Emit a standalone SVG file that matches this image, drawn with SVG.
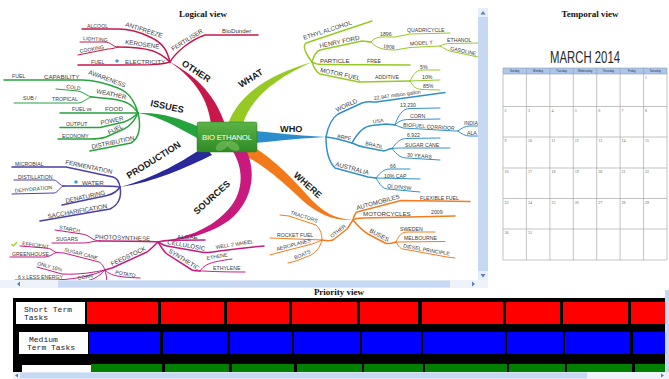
<svg xmlns="http://www.w3.org/2000/svg" width="669" height="379" viewBox="0 0 669 379">
<defs>
<style>
.t1{font-family:"Liberation Sans",Arial,sans-serif;font-size:6.2px;fill:#3a3a3a}
.t2{font-family:"Liberation Sans",Arial,sans-serif;font-size:5.2px;fill:#3a3a3a}
.bl{font-family:"Liberation Sans",Arial,sans-serif;font-size:9.2px;font-weight:bold;fill:#1c1c1c}
.ttl{font-family:"Liberation Serif","Times New Roman",serif;font-size:9px;font-weight:bold;fill:#111}
.l1{fill:none;stroke-width:1.5;stroke-linecap:round;stroke-linejoin:round}
.l2{fill:none;stroke-width:1;stroke-linecap:round;stroke-linejoin:round}
.oth{stroke:#c8174a}.iss{stroke:#25a33d}.wht{stroke:#97c925}.who{stroke:#3190cb}.whr{stroke:#f27c1e}.prd{stroke:#4d3fa8}.src{stroke:#c8197f}
.cal{stroke:#9a9a9a;stroke-width:0.6;fill:none}
.d{font-family:"Liberation Serif",serif;font-size:4px;fill:#666}
.hd{font-family:"Liberation Sans",Arial,sans-serif;font-size:2.8px;fill:#334;text-anchor:middle}
.lab{font-family:"Liberation Mono","Courier New",monospace;font-size:8px;fill:#222}
.sb{fill:#c6d8f2}
</style>
<linearGradient id="gc" x1="0" y1="0" x2="0" y2="1">
<stop offset="0" stop-color="#5cb446"/>
<stop offset="1" stop-color="#2f8a25"/>
</linearGradient>
<clipPath id="mm"><rect x="0" y="8" width="478" height="272"/></clipPath>
</defs>
<rect width="669" height="379" fill="#fff"/>

<g id="title-logical"><text class="ttl" x="203" y="17" text-anchor="middle">Logical view</text></g>
<g id="title-temporal"><text class="ttl" x="590" y="17" text-anchor="middle">Temporal view</text></g>
<g id="title-priority"><text class="ttl" x="339" y="295" text-anchor="middle">Priority view</text></g>

<g clip-path="url(#mm)">
<g id="connectors">
<path d="M211 124 C208 100 196 80 170 62 C200 78 216 98 225 124 Z" fill="#c8174a"/>
<path d="M228 124 C238 95 268 75 312 62 C272 80 250 100 243 124 Z" fill="#97c925"/>
<path d="M199 127 C180 118 160 112 138 113 C160 116 178 128 199 139 Z" fill="#25a33d"/>
<path d="M255 131 C285 134 305 136 326 137 C305 138 285 140 255 143 Z" fill="#2c8dcb"/>
<path d="M252 146 C275 160 292 178 308 196 C322 212 335 219 353 220 C333 221 318 214 302 200 C285 184 268 168 244 155 Z" fill="#f27a1a"/>
<path d="M205 146 C185 160 155 178 120 187 C155 182 185 168 212 155 Z" fill="#29299b"/>
<path d="M232 150 C245 170 244 195 225 213 C208 230 185 238 158 242 C186 240 212 234 232 218 C254 198 256 170 246 150 Z" fill="#c8197f"/>
<path class="l1 oth" d="M170 62 C160 65 150 65 120 65 L78 65"/>
<path class="l1 oth" d="M170 62 C160 52 150 47 118 47"/>
<path class="l2 oth" d="M118 47 C112 47 112 42 104 42 L80 42"/>
<path class="l2 oth" d="M118 47 C114 48 112 49 108 49 L78 55"/>
<path class="l1 oth" d="M170 62 C167 50 163 43 150 37 C140 32 130 29 118 29 L82 29"/>
<path class="l1 oth" d="M170 62 C175 53 190 40 205 35 L258 35"/>
<path class="l1 iss" d="M138 113 C134 99 128 92 118 88 C105 83 95 80 82 80 L4 80"/>
<path class="l1 iss" d="M138 113 C132 104 126 101 112 99 L92 97"/>
<path class="l2 iss" d="M92 97 C86 96 84 92 78 91 L56 89"/>
<path class="l2 iss" d="M92 97 C86 98 84 103 78 103 L14 103"/>
<path class="l1 iss" d="M138 113 L60 113"/>
<path class="l1 iss" d="M138 113 C133 118 130 120 124 122 L100 127.5 L60 127.5"/>
<path class="l1 iss" d="M138 113 C135 120 130 126 124 129 L106 137 C100 139 95 139 90 139 L58 139"/>
<path class="l1 iss" d="M138 113 C141 125 140 138 131 143 L90 151"/>
<path class="l1 prd" d="M120 187 C119 181 117 178 113 177 L66 167 L12 167"/>
<path class="l1 prd" d="M120 187 C112 186 108 186 100 186 L64 186"/>
<path class="l2 prd" d="M64 186 C60 186 58 181 54 180 L14 180"/>
<path class="l2 prd" d="M64 186 C60 186 58 193 54 193 L12 194"/>
<path class="l1 prd" d="M120 187 C117 192 113 194 107 195.5 L62 205"/>
<path class="l1 prd" d="M120 187 C122 198 118 205 110 209 L40 221"/>
<path class="l1 src" d="M158 242 C150 241 145 241 100 241"/>
<path class="l2 src" d="M100 241 C92 241 90 235 82 234 L55 230"/>
<path class="l2 src" d="M100 241 C92 241 90 243 82 243 L52 243"/>
<path class="l1 src" d="M158 242 C165 240 170 240 205 240"/>
<path class="l1 src" d="M158 242 C162 244 164 245.5 167 246 L204 252.5 C212 253 225 249 264 246"/>
<path class="l1 src" d="M158 242 C162 248 164 252 167 254 L192 270 C195 271 198 271 200 271"/>
<path class="l2 src" d="M200 271 C205 264 210 262 232 259"/>
<path class="l2 src" d="M200 271 C208 271 215 272 245 272"/>
<path class="l1 src" d="M158 242 C154 246 151 249 147 252 L112 268 L105 270"/>
<path class="l2 src" d="M105 270 C103 265 101 263 99 262 L64 253 L56 252.5"/>
<path class="l2 src" d="M56 252.5 C52 250 50 248 45 248 L20 246"/>
<path class="l2 src" d="M56 252.5 C52 254 50 257 45 257 L10 257"/>
<path class="l2 src" d="M105 270 C95 272 80 275 62 274 L37 267"/>
<path class="l2 src" d="M105 270 C90 277 70 280 50 280 L15 280"/>
<path class="l2 src" d="M105 270 C100 275 95 281 78 282"/>
<path class="l2 src" d="M105 270 C110 275 115 277 140 278"/>
<path class="l2 src" d="M105 270 C106 274 107 278 107 284"/>
<path class="l1 wht" d="M312 62 C306 54 302 46 306 43 L372 21"/>
<path class="l1 wht" d="M312 62 C314 55 316 51 320 50 L362 41 C365 41 368 42 371 42"/>
<path class="l2 wht" d="M371 42 C376 36 380 37 395 37 L410 34 L450 33"/>
<path class="l2 wht" d="M371 42 C376 47 380 50 395 50 L410 47.5 L440 46"/>
<path class="l2 wht" d="M440 46 C444 44 446 43.5 450 43.5 L480 43"/>
<path class="l2 wht" d="M440 46 C444 48 446 50 450 51 L478 57"/>
<path class="l1 wht" d="M312 62 C315 64 318 64.5 322 64.5 L410 65"/>
<path class="l1 wht" d="M312 62 C314 68 316 72 320 74 L359 82 L410 81"/>
<path class="l2 wht" d="M410 81 C413 76 415 70 422 70 L440 70"/>
<path class="l2 wht" d="M410 81 L440 80"/>
<path class="l2 wht" d="M410 81 C413 86 415 89 422 89.5 L440 90"/>
<path class="l1 who" d="M326 137 C328 126 332 118 338 114 L362 103 C368 101 372 102 376 102 L445 92.5"/>
<path class="l1 who" d="M326 137 C335 138 342 140 352 143"/>
<path class="l1 who" d="M352 143 C358 132 364 126 372 125.5 L386 124 C390 124 392 125 395 125"/>
<path class="l2 who" d="M395 125 C398 116 402 108.5 410 108.5 L440 108"/>
<path class="l2 who" d="M395 125 C400 120 404 119.5 410 119.5 L440 119"/>
<path class="l2 who" d="M395 125 L403 128 L455 131 L458 131"/>
<path class="l2 who" d="M458 131 C462 128 465 126 470 126 L482 126"/>
<path class="l2 who" d="M458 131 C462 134 465 136 470 136 L482 136"/>
<path class="l1 who" d="M352 143 C358 146 362 147 366 147.5 L384 151 C387 150 389 149 392 148.5"/>
<path class="l2 who" d="M392 148.5 C397 142 400 138.5 407 138.5 L440 138"/>
<path class="l2 who" d="M392 148.5 C397 148 400 148 405 148 L450 148"/>
<path class="l2 who" d="M392 148.5 C397 155 401 158 407 158 L440 160"/>
<path class="l1 who" d="M326 137 C326 152 329 162 335 168 L368 177 L376 178"/>
<path class="l2 who" d="M376 178 C381 172 384 169 390 169 L410 169"/>
<path class="l2 who" d="M376 178 L420 179"/>
<path class="l2 who" d="M376 178 C380 185 383 189 388 189 L420 192"/>
<path class="l1 whr" d="M353 220 C354 216 355 213 357 212 L401 200.5 L470 201.5"/>
<path class="l1 whr" d="M353 220 C356 218 360 218 363 218 L455 216"/>
<path class="l1 whr" d="M353 220 C358 226 363 231 368 234 L386 243.5 C390 244 393 243 396 242"/>
<path class="l2 whr" d="M396 242 C399 235 402 232 408 232 L435 232"/>
<path class="l2 whr" d="M396 242 L445 241.5"/>
<path class="l2 whr" d="M396 242 C399 247 401 249 403 249 L447 257 L455 258"/>
<path class="l1 whr" d="M353 220 C350 224 349 227 347 229 L333 240 C330 241 326 241 322 240"/>
<path class="l2 whr" d="M322 240 C322 232 319 228 316 225 L289 216 L280 215"/>
<path class="l2 whr" d="M322 240 L270 238"/>
<path class="l2 whr" d="M322 240 C318 242 315 243 312 244 L277 253 L270 255"/>
<path class="l2 whr" d="M322 240 C320 248 316 252 311 255 L296 261 L288 263"/>
</g>

<g id="n-center">
<rect x="197" y="122" width="60" height="30" rx="2" fill="url(#gc)" stroke="#2a7a20" stroke-width="0.5"/>
<ellipse cx="222" cy="146" rx="7" ry="4" fill="#8fd070" opacity="0.45" transform="rotate(-30 222 146)"/>
<ellipse cx="233" cy="146" rx="7" ry="4" fill="#8fd070" opacity="0.45" transform="rotate(30 233 146)"/>
<text x="227" y="139.5" text-anchor="middle" font-family="Liberation Sans,Arial,sans-serif" font-size="7.8" fill="#fff" textLength="50" lengthAdjust="spacing">BIO ETHANOL</text>
</g>

<g id="n-other"><text class="bl" transform="translate(181 65) rotate(33)">OTHER</text></g>
<g id="n-electricity"><text class="t1" x="125" y="63.5">ELECTRICITY</text><rect x="115.5" y="59.5" width="3" height="3" fill="#3b9bdc" transform="rotate(45 117 61)"/></g>
<g id="n-fuel1"><text class="t2" x="91" y="63.5">FUEL</text></g>
<g id="n-kerosene"><text class="t1" transform="translate(125 44) rotate(8)">KEROSENE</text></g>
<g id="n-lighting"><text class="t2" transform="translate(83 40) rotate(4)">LIGHTING</text></g>
<g id="n-cooking"><text class="t2" transform="translate(80 53) rotate(-10)">COOKING</text></g>
<g id="n-antifreeze"><text class="t1" transform="translate(125 26) rotate(18)">ANTIFREEZE</text></g>
<g id="n-alcool"><text class="t2" x="87" y="27.5">ALCOOL</text></g>
<g id="n-fertiliser"><text class="t1" transform="translate(173 51) rotate(-32)">FERTILISER</text></g>
<g id="n-biodunder"><text class="t1" x="222" y="33">BioDunder</text></g>

<g id="n-issues"><text class="bl" transform="translate(150 106) rotate(12)">ISSUES</text></g>
<g id="n-awareness"><text class="t1" transform="translate(88 74) rotate(20)">AWARENESS</text></g>
<g id="n-capability"><text class="t1" x="44" y="78.5">CAPABILITY</text></g>
<g id="n-fuel2"><text class="t2" x="12" y="78">FUEL</text></g>
<g id="n-weather"><text class="t1" transform="translate(96 93) rotate(12)">WEATHER</text></g>
<g id="n-cold"><text class="t2" transform="translate(66 88) rotate(10)">COLD</text></g>
<g id="n-tropical"><text class="t2" x="52" y="101">TROPICAL</text></g>
<g id="n-sub"><text class="t2" x="23" y="100">SUB /</text></g>
<g id="n-food"><text class="t1" x="105" y="111">FOOD</text></g>
<g id="n-fuelvs"><text class="t2" x="72" y="111">FUEL vs</text></g>
<g id="n-power"><text class="t1" transform="translate(101 125) rotate(-12)">POWER</text></g>
<g id="n-output"><text class="t2" x="66" y="125.5">OUTPUT</text></g>
<g id="n-fuel3"><text class="t1" transform="translate(109 134.5) rotate(-25)">FUEL</text></g>
<g id="n-economy"><text class="t2" x="62" y="137.5">ECONOMY</text></g>
<g id="n-distribution"><text class="t1" transform="translate(92 149) rotate(-12)">DISTRIBUTION</text></g>

<g id="n-production"><text class="bl" transform="translate(129 179) rotate(-32)">PRODUCTION</text></g>
<g id="n-fermentation"><text class="t1" transform="translate(65 164) rotate(12)">FERMENTATION</text></g>
<g id="n-microbial"><text class="t2" x="15" y="165.5">MICROBIAL</text></g>
<g id="n-water"><text class="t1" x="82" y="184.5">WATER</text><rect x="74.5" y="180.5" width="3" height="3" fill="#3b9bdc" transform="rotate(45 76 182)"/></g>
<g id="n-distillation"><text class="t2" x="18" y="178.5">DISTILLATION</text></g>
<g id="n-dehydration"><text class="t2" transform="translate(15 192.5) rotate(-5)">DEHYDRATION</text></g>
<g id="n-denaturing"><text class="t1" transform="translate(66 203) rotate(-12)">DENATURING</text></g>
<g id="n-saccharification"><text class="t1" transform="translate(48 218.5) rotate(-10)">SACCHARIFICATION</text></g>

<g id="n-sources"><text class="bl" transform="translate(197 215) rotate(-42)">SOURCES</text></g>
<g id="n-photosynthese"><text class="t1" transform="translate(95 239) rotate(2)">PHOTOSYNTHESE</text></g>
<g id="n-starch"><text class="t2" transform="translate(59 229) rotate(10)">STARCH</text></g>
<g id="n-sugars"><text class="t2" x="56" y="241">SUGARS</text></g>
<g id="n-algae"><text class="t1" x="177" y="238.5">ALGAE</text></g>
<g id="n-cellulosic"><text class="t1" transform="translate(167 244) rotate(10)">CELLULOSIC</text></g>
<g id="n-well2wheel"><text class="t2" transform="translate(216 249) rotate(-9)">WELL 2 WHEEL</text></g>
<g id="n-synthetic"><text class="t1" transform="translate(168 252) rotate(32)">SYNTHETIC</text></g>
<g id="n-ethene"><text class="t2" transform="translate(207 260) rotate(-10)">ETHENE</text></g>
<g id="n-ethylene"><text class="t2" x="213" y="270">ETHYLENE</text></g>
<g id="n-feedstock"><text class="t1" transform="translate(112 266) rotate(-25)">FEEDSTOCK</text></g>
<g id="n-sugarcane1"><text class="t2" transform="translate(64 251) rotate(15)">SUGAR CANE</text></g>
<g id="n-efficient"><text class="t2" transform="translate(22 245) rotate(8)">EFFICIENT</text><polyline points="11.5,244 13.5,246 17,242" fill="none" stroke="#a8cc30" stroke-width="1.3"/></g>
<g id="n-greenhouse"><text class="t2" x="12" y="255.5">GREENHOUSE</text></g>
<g id="n-only10"><text class="t2" transform="translate(37 265) rotate(15)">ONLY 10%</text></g>
<g id="n-6xless"><text class="t2" x="18" y="278.5" font-size="4.2">6 x LESS ENERGY</text></g>
<g id="n-corn1"><text class="t2" transform="translate(78 280) rotate(-10)">CORN</text></g>
<g id="n-potato"><text class="t2" transform="translate(115 274) rotate(10)">POTATO</text></g>

<g id="n-what"><text class="bl" transform="translate(241 88) rotate(-32)">WHAT</text></g>
<g id="n-ethylalcohol"><text class="t1" transform="translate(304 40) rotate(-18)">ETHYL ALCOHOL</text></g>
<g id="n-henryford"><text class="t1" transform="translate(320 48) rotate(-12)">HENRY FORD</text></g>
<g id="n-1896"><text class="t2" x="380" y="35.5">1896</text></g>
<g id="n-quadricycle"><text class="t2" x="407" y="32">QUADRICYCLE</text></g>
<g id="n-1908"><text class="t2" transform="translate(383 48) rotate(5)">1908</text></g>
<g id="n-modelt"><text class="t2" transform="translate(410 45.5) rotate(-3)">MODEL T</text></g>
<g id="n-ethanol"><text class="t2" x="447" y="42">ETHANOL</text></g>
<g id="n-gasoline"><text class="t2" transform="translate(450 50) rotate(12)">GASOLINE</text></g>
<g id="n-particle"><text class="t1" x="320" y="63">PARTICLE</text></g>
<g id="n-free"><text class="t2" x="367" y="63">FREE</text></g>
<g id="n-motorfuel"><text class="t1" transform="translate(320 72) rotate(12)">MOTOR FUEL</text></g>
<g id="n-additive"><text class="t2" x="375" y="79">ADDITIVE</text></g>
<g id="n-5"><text class="t2" x="420" y="68.5">5%</text></g>
<g id="n-10"><text class="t2" x="422" y="78.5">10%</text></g>
<g id="n-85"><text class="t2" x="423" y="88">85%</text></g>

<g id="n-who"><text class="bl" x="280" y="132">WHO</text></g>
<g id="n-world"><text class="t1" transform="translate(337 112) rotate(-25)">WORLD</text></g>
<g id="n-gallon"><text class="t2" transform="translate(374 100) rotate(-8)">22,947 million gallon</text></g>
<g id="n-brpe"><text class="t2" transform="translate(337 138) rotate(10)">BRPE</text></g>
<g id="n-usa"><text class="t2" transform="translate(373 123.5) rotate(-8)">USA</text></g>
<g id="n-13230"><text class="t2" x="400" y="106.5">13,230</text></g>
<g id="n-corn2"><text class="t2" x="410" y="118">CORN</text></g>
<g id="n-corridor"><text class="t2" transform="translate(403 126.5) rotate(4)">BIOFUEL CORRIDOR</text></g>
<g id="n-india"><text class="t2" x="464" y="124.5">INDIA</text></g>
<g id="n-ala"><text class="t2" x="467" y="134.5">ALA</text></g>
<g id="n-brazil"><text class="t2" transform="translate(365 145) rotate(12)">BRAZIL</text></g>
<g id="n-6922"><text class="t2" x="407" y="136.5">6,922</text></g>
<g id="n-sugarcane2"><text class="t2" x="405" y="146.5">SUGAR CANE</text></g>
<g id="n-30years"><text class="t2" transform="translate(407 156.5) rotate(5)">30 YEARS</text></g>
<g id="n-australia"><text class="t1" transform="translate(335 166) rotate(15)">AUSTRALIA</text></g>
<g id="n-66"><text class="t2" x="390" y="167.5">66</text></g>
<g id="n-10cap"><text class="t2" x="384" y="177.5">10% CAP</text></g>
<g id="n-qldnsw"><text class="t2" transform="translate(387 187.5) rotate(6)">QLD/NSW</text></g>

<g id="n-where"><text class="bl" transform="translate(293 176) rotate(42)">WHERE</text></g>
<g id="n-automobiles"><text class="t1" transform="translate(357 210) rotate(-15)">AUTOMOBILES</text></g>
<g id="n-flexfuel"><text class="t2" x="420" y="199.5">FLEXIBLE FUEL</text></g>
<g id="n-motorcycles"><text class="t1" x="363" y="216">MOTORCYCLES</text></g>
<g id="n-2009"><text class="t2" x="431" y="214">2009</text></g>
<g id="n-buses"><text class="t1" transform="translate(369 232) rotate(28)">BUSES</text></g>
<g id="n-sweden"><text class="t2" x="400" y="230.5">SWEDEN</text></g>
<g id="n-melbourne"><text class="t2" x="404" y="240">MELBOURNE</text></g>
<g id="n-diesel"><text class="t2" transform="translate(403 247.5) rotate(10)">DIESEL PRINCIPLE</text></g>
<g id="n-other2"><text class="t2" transform="translate(332 238) rotate(-38)">OTHER</text></g>
<g id="n-tractors"><text class="t2" transform="translate(290 214) rotate(18)">TRACTORS</text></g>
<g id="n-rocketfuel"><text class="t2" x="277" y="236.5">ROCKET FUEL</text></g>
<g id="n-aeroplanes"><text class="t2" transform="translate(277 251) rotate(-15)">AEROPLANES</text></g>
<g id="n-boats"><text class="t2" transform="translate(295 259.5) rotate(-22)">BOATS</text></g>
</g>

<g id="scroll-logical">
<rect x="478" y="8" width="10" height="272" class="sb"/>
<rect x="478" y="8" width="10" height="9" fill="#e6eef9"/>
<polygon points="480.5,14.5 485.5,14.5 483,11" fill="#5a7fb8"/>
<rect x="478" y="271" width="10" height="9" fill="#e6eef9"/>
<polygon points="480.5,274 485.5,274 483,277.5" fill="#5a7fb8"/>
<rect x="0" y="280" width="488" height="8" fill="#eef2f9"/>
<rect x="58" y="280.5" width="392" height="7" class="sb"/>
<polygon points="17,284 20,281.5 20,286.5" fill="#5a7fb8"/>
<polygon points="475,284 472,281.5 472,286.5" fill="#5a7fb8"/>
</g>

<g id="calendar">
<text x="585" y="63" text-anchor="middle" font-family="Liberation Sans,Arial,sans-serif" font-size="17" fill="#2a2a2a" textLength="70" lengthAdjust="spacingAndGlyphs">MARCH 2014</text>
<rect x="503" y="68" width="164" height="6" fill="#a9c7ee"/>
<g class="cal">
<line x1="503" y1="68" x2="667" y2="68"/><line x1="503" y1="74" x2="667" y2="74"/>
<line x1="503" y1="106.5" x2="667" y2="106.5"/><line x1="503" y1="137" x2="667" y2="137"/>
<line x1="503" y1="168" x2="667" y2="168"/><line x1="503" y1="198.5" x2="667" y2="198.5"/>
<line x1="503" y1="229" x2="667" y2="229"/><line x1="503" y1="260" x2="667" y2="260"/>
<line x1="503" y1="68" x2="503" y2="260"/><line x1="526.4" y1="68" x2="526.4" y2="260"/>
<line x1="549.9" y1="68" x2="549.9" y2="260"/><line x1="573.3" y1="68" x2="573.3" y2="260"/>
<line x1="596.7" y1="68" x2="596.7" y2="260"/><line x1="620.1" y1="68" x2="620.1" y2="260"/>
<line x1="643.6" y1="68" x2="643.6" y2="260"/><line x1="667" y1="68" x2="667" y2="260"/>
</g>
<text class="hd" x="514.7" y="72.3">Sunday</text><text class="hd" x="538.1" y="72.3">Monday</text>
<text class="hd" x="561.6" y="72.3">Tuesday</text><text class="hd" x="585" y="72.3">Wednesday</text>
<text class="hd" x="608.4" y="72.3">Thursday</text><text class="hd" x="631.9" y="72.3">Friday</text>
<text class="hd" x="655.3" y="72.3">Saturday</text>
<text class="d" x="645.1" y="79">1</text>
<text class="d" x="504.5" y="111.5">2</text><text class="d" x="527.9" y="111.5">3</text><text class="d" x="551.4" y="111.5">4</text><text class="d" x="574.8" y="111.5">5</text><text class="d" x="598.2" y="111.5">6</text><text class="d" x="621.6" y="111.5">7</text><text class="d" x="645.1" y="111.5">8</text>
<text class="d" x="504.5" y="142">9</text><text class="d" x="527.9" y="142">10</text><text class="d" x="551.4" y="142">11</text><text class="d" x="574.8" y="142">12</text><text class="d" x="598.2" y="142">13</text><text class="d" x="621.6" y="142">14</text><text class="d" x="645.1" y="142">15</text>
<text class="d" x="504.5" y="173">16</text><text class="d" x="527.9" y="173">17</text><text class="d" x="551.4" y="173">18</text><text class="d" x="574.8" y="173">19</text><text class="d" x="598.2" y="173">20</text><text class="d" x="621.6" y="173">21</text><text class="d" x="645.1" y="173">22</text>
<text class="d" x="504.5" y="203.5">23</text><text class="d" x="527.9" y="203.5">24</text><text class="d" x="551.4" y="203.5">25</text><text class="d" x="574.8" y="203.5">26</text><text class="d" x="598.2" y="203.5">27</text><text class="d" x="621.6" y="203.5">28</text><text class="d" x="645.1" y="203.5">29</text>
<text class="d" x="504.5" y="234">30</text><text class="d" x="527.9" y="234">31</text>
</g>

<g id="priority">
<rect x="13" y="298" width="653" height="74" fill="#000"/>
<g id="row-short">
<rect x="16" y="302" width="69" height="22" fill="#fff"/>
<text class="lab" x="24" y="311.5">Short Term</text>
<text class="lab" x="24" y="319.5">Tasks</text>
<g fill="#ff0000">
<rect x="87" y="302" width="71" height="22"/><rect x="161" y="302" width="63" height="22"/>
<rect x="227" y="302" width="62" height="22"/><rect x="292" y="302" width="65" height="22"/>
<rect x="360" y="302" width="58" height="22"/><rect x="422" y="302" width="81" height="22"/>
<rect x="506" y="302" width="54" height="22"/><rect x="563" y="302" width="65" height="22"/>
<rect x="631" y="302" width="35" height="22"/>
</g>
</g>
<g id="row-medium">
<rect x="19" y="332" width="69" height="22" fill="#fff"/>
<text class="lab" x="29" y="341.5">Medium</text>
<text class="lab" x="27" y="349.5">Term Tasks</text>
<g fill="#0000ff">
<rect x="89" y="332" width="71" height="22"/><rect x="163" y="332" width="64" height="22"/>
<rect x="230" y="332" width="62" height="22"/><rect x="294" y="332" width="66" height="22"/>
<rect x="362" y="332" width="59" height="22"/><rect x="423" y="332" width="82" height="22"/>
<rect x="507" y="332" width="56" height="22"/><rect x="565" y="332" width="65" height="22"/>
<rect x="633" y="332" width="33" height="22"/>
</g>
</g>
<g id="row-long">
<rect x="22" y="365" width="69" height="7" fill="#fff"/>
<g fill="#008000">
<rect x="91" y="364" width="71" height="8"/><rect x="165" y="364" width="64" height="8"/>
<rect x="232" y="364" width="62" height="8"/><rect x="297" y="364" width="65" height="8"/>
<rect x="364" y="364" width="59" height="8"/><rect x="425" y="364" width="82" height="8"/>
<rect x="509" y="364" width="56" height="8"/><rect x="567" y="364" width="65" height="8"/>
<rect x="635" y="364" width="31" height="8"/>
</g>
</g>
<rect x="665" y="290" width="4" height="82" class="sb"/>
<rect x="13" y="372" width="656" height="7" fill="#eef2f9"/>
<rect x="20" y="372.5" width="567" height="6" class="sb"/>
<polygon points="15,375.5 18,373.5 18,377.5" fill="#5a7fb8"/>
<polygon points="664,375.5 661,373.5 661,377.5" fill="#5a7fb8"/>
</g>
</svg>
